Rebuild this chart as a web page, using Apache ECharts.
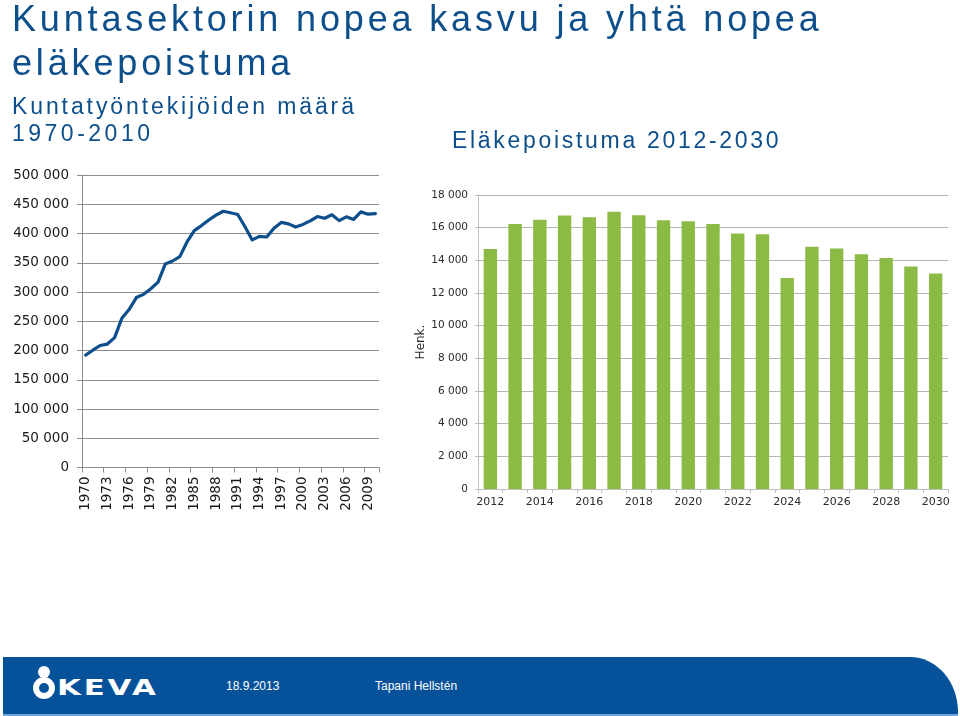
<!DOCTYPE html>
<html>
<head>
<meta charset="utf-8">
<script src="https://cdn.jsdelivr.net/npm/echarts@6/dist/echarts.min.js"></script>
<style>
  html, body { margin: 0; padding: 0; background: #ffffff; }
  #wrap { position: relative; width: 960px; height: 716px; overflow: hidden; background: #fff; }
  #chart { position: absolute; left: 0; top: 0; width: 960px; height: 716px; }
  .t { position: absolute; white-space: nowrap; font-family: "Liberation Sans", Arial, sans-serif; color: #0d4f8b; }
  #footer { position: absolute; left: 3px; top: 657px; width: 955px; height: 57px; background: #05529a;
            border-top-right-radius: 48px 55px; border-bottom: 2px solid #6fa6d6; }
  .f { position: absolute; white-space: nowrap; font-family: "Liberation Sans", Arial, sans-serif; color: #fff; font-size: 12px; line-height: 12px; }
</style>
</head>
<body>
<div id="wrap">
  <div id="chart"></div>
  <div class="t" style="left:12px; top:1px; font-size:36px; line-height:36px; letter-spacing:3.85px;">Kuntasektorin nopea kasvu ja yhtä nopea</div>
  <div class="t" style="left:12px; top:45px; font-size:36px; line-height:36px; letter-spacing:3.85px;">eläkepoistuma</div>
  <div class="t" style="left:12px; top:95px; font-size:23px; line-height:23px; letter-spacing:2.9px;">Kuntatyöntekijöiden määrä</div>
  <div class="t" style="left:12px; top:122px; font-size:23px; line-height:23px; letter-spacing:3.5px;">1970-2010</div>
  <div class="t" style="left:452px; top:129px; font-size:23px; line-height:23px; letter-spacing:2.7px;">Eläkepoistuma 2012-2030</div>
  <div id="footer">
    <div style="position:absolute; left:35px; top:9px; width:12px; height:12px; border-radius:50%; background:#fff;"></div>
    <div style="position:absolute; left:30px; top:20px; width:10px; height:10px; border-radius:50%; border:6px solid #fff; background:#05529a;"></div>
    <div style="position:absolute; left:54px; top:20px; font-family:'DejaVu Sans', sans-serif; font-weight:bold; font-size:22px; line-height:22px; color:#fff; letter-spacing:2px; transform:scaleX(1.4); transform-origin:left top;">KEVA</div>
    <div class="f" style="left:223px; top:23px;">18.9.2013</div>
    <div class="f" style="left:372px; top:23px;">Tapani Hellstén</div>
  </div>
</div>
<script>
// Kuntatyöntekijöiden määrä 1970-2010
const years = ['1970','1971','1972','1973','1974','1975','1976','1977','1978','1979',
  '1980','1981','1982','1983','1984','1985','1986','1987','1988','1989',
  '1990','1991','1992','1993','1994','1995','1996','1997','1998','1999',
  '2000','2001','2002','2003','2004','2005','2006','2007','2008','2009','2010'];
const employees = [192000, 200500, 208500, 211000, 222000, 255000, 270000, 290500, 296000, 305500,
  317000, 348000, 353000, 360500, 385500, 405000, 413500, 423000, 431500, 438000,
  435500, 432500, 411500, 389000, 395000, 394000, 409000, 419000, 416500, 411000,
  415500, 421500, 429000, 426000, 432000, 422000, 428500, 424000, 437000, 433000, 434000];
const employeeTicks = [0, 50000, 100000, 150000, 200000, 250000, 300000, 350000, 400000, 450000, 500000];

// Eläkepoistuma 2012-2030
const forecastYears = ['2012','2013','2014','2015','2016','2017','2018','2019','2020','2021',
  '2022','2023','2024','2025','2026','2027','2028','2029','2030'];
const retirements = [14700, 16230, 16480, 16740, 16640, 16980, 16760, 16450, 16390, 16230,
  15640, 15600, 12920, 14830, 14730, 14380, 14140, 13630, 13200];
const retirementTicks = [0, 2000, 4000, 6000, 8000, 10000, 12000, 14000, 16000, 18000];

function fmt(v) { return String(v).replace(/\B(?=(\d{3})+(?!\d))/g, ' '); }

const chart = echarts.init(document.getElementById('chart'), null, { renderer: 'canvas' });
chart.setOption({
  animation: false,
  backgroundColor: '#ffffff',
  grid: [
    { left: 82, right: 581, top: 175, bottom: 248.5 },
    { left: 478, right: 12, top: 195, bottom: 227 }
  ],
  xAxis: [
    {
      type: 'category', gridIndex: 0, data: years, boundaryGap: true,
      axisLine: { show: true, lineStyle: { color: '#8c8c8c', width: 1 } },
      axisTick: { show: true, length: 5, lineStyle: { color: '#8c8c8c' } },
      axisLabel: { interval: 2, rotate: 90, margin: 9, fontFamily: 'DejaVu Sans', fontSize: 13.5, color: '#1a1a1a' },
      splitLine: { show: false }
    },
    {
      type: 'category', gridIndex: 1, data: forecastYears, boundaryGap: true,
      axisLine: { show: true, lineStyle: { color: '#bfbfbf', width: 1 } },
      axisTick: { show: true, interval: 0, length: 4, lineStyle: { color: '#bfbfbf' } },
      axisLabel: { interval: 1, margin: 8, fontFamily: 'DejaVu Sans', fontSize: 11, color: '#2b2b2b' },
      splitLine: { show: false }
    }
  ],
  yAxis: [
    {
      type: 'value', gridIndex: 0,
      min: employeeTicks[0], max: employeeTicks[employeeTicks.length - 1], interval: employeeTicks[1] - employeeTicks[0],
      axisLine: { show: true, lineStyle: { color: '#8c8c8c', width: 1 } },
      axisTick: { show: true, length: 5, lineStyle: { color: '#8c8c8c' } },
      axisLabel: { margin: 13, fontFamily: 'DejaVu Sans', fontSize: 13.5, color: '#1a1a1a', formatter: fmt },
      splitLine: { show: true, lineStyle: { color: '#8c8c8c', width: 1.2 } }
    },
    {
      type: 'value', gridIndex: 1,
      min: retirementTicks[0], max: retirementTicks[retirementTicks.length - 1], interval: retirementTicks[1] - retirementTicks[0],
      name: 'Henk.', nameLocation: 'middle', nameRotate: 90, nameGap: 47,
      nameTextStyle: { fontFamily: 'DejaVu Sans', fontSize: 12, color: '#2b2b2b' },
      axisLine: { show: true, lineStyle: { color: '#bfbfbf', width: 1 } },
      axisTick: { show: true, length: 3, lineStyle: { color: '#bfbfbf' } },
      axisLabel: { margin: 10, fontFamily: 'DejaVu Sans', fontSize: 10.5, color: '#2b2b2b', formatter: fmt },
      splitLine: { show: true, lineStyle: { color: '#b5b5b5', width: 1 } }
    }
  ],
  series: [
    {
      type: 'line', xAxisIndex: 0, yAxisIndex: 0, data: employees,
      symbol: 'none', smooth: false,
      lineStyle: { color: '#0c4f8c', width: 3.2, join: 'round', cap: 'round' }
    },
    {
      type: 'bar', xAxisIndex: 1, yAxisIndex: 1, data: retirements,
      barWidth: '54%', itemStyle: { color: '#8cbb45' }
    }
  ]
});
</script>
</body>
</html>
